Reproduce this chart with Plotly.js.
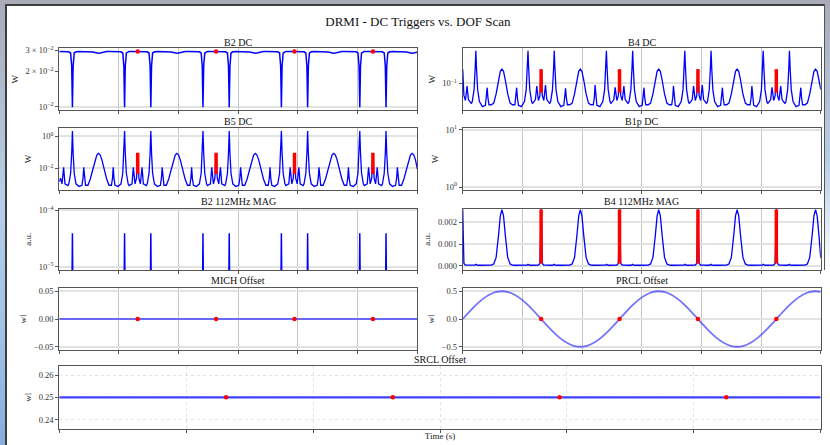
<!DOCTYPE html>
<html><head><meta charset="utf-8">
<script src="https://cdn.plot.ly/plotly-3.0.1.min.js"></script>
<style>
html,body{margin:0;padding:0;width:830px;height:445px;overflow:hidden;background:#fff;}
#frameL{position:absolute;left:0;top:0;width:5px;height:445px;background:linear-gradient(#a9abb9,#b7cfe9 45%,#9fc2e8 75%,#86aedc);z-index:4;}
#frameT{position:absolute;left:0;top:0;width:830px;height:4px;background:#a9abb9;z-index:4;}
#frameR{position:absolute;left:825px;top:0;width:5px;height:270px;background:linear-gradient(#a9abb9,#b7cfe9 60%,#ffffff);z-index:4;}
#lineL{position:absolute;left:5px;top:4px;width:2px;height:441px;background:#3d3d3d;z-index:5;}
#lineT{position:absolute;left:5px;top:4px;width:820px;height:2px;background:#3d3d3d;z-index:5;}
#lineR{position:absolute;left:824px;top:4px;width:1px;height:266px;background:#555;z-index:5;}
#chart{position:absolute;left:7px;top:5px;width:817px;height:440px;}
</style></head>
<body>
<div id="frameL"></div><div id="frameT"></div><div id="frameR"></div>
<div id="lineL"></div><div id="lineT"></div><div id="lineR"></div>
<div id="chart"></div>
<script>
// ---------------- DATA ----------------
// common sample times (s) of the channel traces
const time_s = [
0, 0.2, 0.45, 0.73, 0.95, 1.45, 1.6, 1.9, 2.08, 2.2, 2.32, 2.5, 2.8, 3.3, 3.8, 3.98, 4.1, 4.22, 4.4, 4.8, 5.2, 5.6, 6.0, 6.3, 6.57, 6.84, 7.14, 7.54, 7.94, 8.34, 8.74, 8.92, 9.04, 9.16, 9.34, 9.84, 10.34, 10.64, 10.82, 10.94, 11.06, 11.24, 11.54, 11.69, 12.19, 12.41, 12.69, 12.94,
13.14, 13.34, 13.59, 13.87, 14.09, 14.59, 14.74, 15.04, 15.22, 15.34, 15.46, 15.64, 15.94, 16.44, 16.94, 17.12, 17.24, 17.36, 17.54, 17.94, 18.34, 18.74, 19.14, 19.44, 19.71, 19.98, 20.28, 20.68, 21.08, 21.48, 21.88, 22.06, 22.18, 22.30, 22.48, 22.98, 23.48, 23.78, 23.96, 24.08, 24.20, 24.38, 24.68, 24.83, 25.33, 25.55, 25.83, 26.08,
26.28, 26.48, 26.73, 27.01, 27.23, 27.73, 27.88, 28.18, 28.36, 28.48, 28.60, 28.78, 29.08, 29.58, 30.08, 30.26, 30.38, 30.50, 30.68, 31.08, 31.48, 31.88, 32.28, 32.58, 32.85, 33.12, 33.42, 33.82, 34.22, 34.62, 35.02, 35.20, 35.32, 35.44, 35.62, 36.12, 36.62, 36.92, 37.10, 37.22, 37.34, 37.52, 37.82, 37.97, 38.47, 38.69, 38.97, 39.22,
39.42, 39.62, 39.87, 40.15, 40.37, 40.87, 41.02, 41.32, 41.50, 41.62, 41.74, 41.92, 42.22, 42.72, 43.22, 43.40, 43.52, 43.64, 43.82, 44.22, 44.62, 45.02, 45.42, 45.72, 45.99, 46.26, 46.56, 46.96, 47.36, 47.76, 48.16, 48.34, 48.46, 48.58, 48.76, 49.26, 49.76, 50.06, 50.24, 50.36, 50.48, 50.66, 50.96, 51.11, 51.61, 51.83, 52.11, 52.36,
52.56, 52.76, 53.01, 53.29, 53.51, 54.01, 54.16, 54.46, 54.64, 54.76, 54.88, 55.06, 55.36, 55.86, 56.36, 56.54, 56.66, 56.78, 56.96, 57.36, 57.76, 58.16, 58.56, 58.86, 59.13, 59.40, 59.70, 60.00
];

// B2 DC (W)
const b2_dc = [
0.0294, 0.0294, 0.0294, 0.0294, 0.0294, 0.0294, 0.0292, 0.0285, 0.022, 0.0099, 0.022, 0.0285, 0.0292, 0.0294, 0.0294, 0.0294, 0.0294, 0.0294, 0.0294, 0.0294, 0.0293, 0.0291, 0.0288, 0.0285, 0.0284, 0.0285, 0.0288, 0.0291, 0.0293, 0.0294, 0.0294, 0.0294, 0.0294, 0.0294, 0.0294, 0.0294, 0.0292, 0.0285, 0.022, 0.0099, 0.022, 0.0285, 0.0292, 0.0294, 0.0294, 0.0294, 0.0294, 0.0294,
0.0294, 0.0294, 0.0294, 0.0294, 0.0294, 0.0294, 0.0292, 0.0285, 0.022, 0.0099, 0.022, 0.0285, 0.0292, 0.0294, 0.0294, 0.0294, 0.0294, 0.0294, 0.0294, 0.0294, 0.0293, 0.0291, 0.0288, 0.0285, 0.0284, 0.0285, 0.0288, 0.0291, 0.0293, 0.0294, 0.0294, 0.0294, 0.0294, 0.0294, 0.0294, 0.0294, 0.0292, 0.0285, 0.022, 0.0099, 0.022, 0.0285, 0.0292, 0.0294, 0.0294, 0.0294, 0.0294, 0.0294,
0.0294, 0.0294, 0.0294, 0.0294, 0.0294, 0.0294, 0.0292, 0.0285, 0.022, 0.0099, 0.022, 0.0285, 0.0292, 0.0294, 0.0294, 0.0294, 0.0294, 0.0294, 0.0294, 0.0294, 0.0293, 0.0291, 0.0288, 0.0285, 0.0284, 0.0285, 0.0288, 0.0291, 0.0293, 0.0294, 0.0294, 0.0294, 0.0294, 0.0294, 0.0294, 0.0294, 0.0292, 0.0285, 0.022, 0.0099, 0.022, 0.0285, 0.0292, 0.0294, 0.0294, 0.0294, 0.0294, 0.0294,
0.0294, 0.0294, 0.0294, 0.0294, 0.0294, 0.0294, 0.0292, 0.0285, 0.022, 0.0099, 0.022, 0.0285, 0.0292, 0.0294, 0.0294, 0.0294, 0.0294, 0.0294, 0.0294, 0.0294, 0.0293, 0.0291, 0.0288, 0.0285, 0.0284, 0.0285, 0.0288, 0.0291, 0.0293, 0.0294, 0.0294, 0.0294, 0.0294, 0.0294, 0.0294, 0.0294, 0.0292, 0.0285, 0.022, 0.0099, 0.022, 0.0285, 0.0292, 0.0294, 0.0294, 0.0294, 0.0294, 0.0294,
0.0294, 0.0294, 0.0294, 0.0294, 0.0294, 0.0294, 0.0292, 0.0285, 0.022, 0.0099, 0.022, 0.0285, 0.0292, 0.0294, 0.0294, 0.0294, 0.0294, 0.0294, 0.0294, 0.0294, 0.0293, 0.0291, 0.0288, 0.0285, 0.0284, 0.0285, 0.0288, 0.029
];

// B4 DC (W)
const b4_dc = [
0.22, 0.05, 0.038, 0.085, 0.04, 0.032, 0.036, 0.07, 0.22, 0.62, 0.22, 0.07, 0.036, 0.027, 0.029, 0.045, 0.078, 0.045, 0.03, 0.03, 0.033, 0.055, 0.12, 0.195, 0.22, 0.195, 0.12, 0.055, 0.033, 0.03, 0.03, 0.045, 0.078, 0.045, 0.029, 0.027, 0.036, 0.07, 0.22, 0.62, 0.22, 0.07, 0.036, 0.032, 0.04, 0.085, 0.038, 0.05,
0.22, 0.05, 0.038, 0.09, 0.04, 0.032, 0.036, 0.07, 0.22, 0.62, 0.22, 0.07, 0.036, 0.027, 0.029, 0.045, 0.075, 0.045, 0.03, 0.03, 0.033, 0.055, 0.12, 0.195, 0.22, 0.195, 0.12, 0.055, 0.033, 0.03, 0.03, 0.045, 0.09, 0.045, 0.029, 0.027, 0.036, 0.07, 0.22, 0.62, 0.22, 0.07, 0.036, 0.032, 0.04, 0.08, 0.038, 0.05,
0.22, 0.05, 0.038, 0.085, 0.04, 0.032, 0.036, 0.07, 0.22, 0.62, 0.22, 0.07, 0.036, 0.027, 0.029, 0.045, 0.078, 0.045, 0.03, 0.03, 0.033, 0.055, 0.12, 0.195, 0.22, 0.195, 0.12, 0.055, 0.033, 0.03, 0.03, 0.045, 0.085, 0.045, 0.029, 0.027, 0.036, 0.07, 0.22, 0.62, 0.22, 0.07, 0.036, 0.032, 0.04, 0.085, 0.038, 0.05,
0.22, 0.05, 0.038, 0.09, 0.04, 0.032, 0.036, 0.07, 0.22, 0.62, 0.22, 0.07, 0.036, 0.027, 0.029, 0.045, 0.078, 0.045, 0.03, 0.03, 0.033, 0.055, 0.12, 0.195, 0.22, 0.195, 0.12, 0.055, 0.033, 0.03, 0.03, 0.045, 0.085, 0.045, 0.029, 0.027, 0.036, 0.07, 0.22, 0.62, 0.22, 0.07, 0.036, 0.032, 0.04, 0.08, 0.038, 0.05,
0.22, 0.05, 0.038, 0.085, 0.04, 0.032, 0.036, 0.07, 0.22, 0.62, 0.22, 0.07, 0.036, 0.027, 0.029, 0.045, 0.078, 0.045, 0.03, 0.03, 0.033, 0.055, 0.12, 0.195, 0.22, 0.195, 0.12, 0.07
];

// B5 DC (W)
const b5_dc = [
0.0015, 0.0025, 0.0011, 0.0116, 0.0011, 0.00085, 0.0011, 0.005, 0.09, 2.13, 0.09, 0.005, 0.0011, 0.00076, 0.0009, 0.0025, 0.0116, 0.0025, 0.0009, 0.0009, 0.0022, 0.008, 0.034, 0.07, 0.085, 0.07, 0.034, 0.008, 0.0022, 0.0009, 0.0009, 0.0025, 0.0116, 0.0025, 0.0009, 0.00076, 0.0011, 0.005, 0.09, 2.13, 0.09, 0.005, 0.0011, 0.00085, 0.0011, 0.0116, 0.0011, 0.0025,
0.09, 0.0025, 0.0011, 0.0116, 0.0011, 0.00085, 0.0011, 0.005, 0.09, 2.13, 0.09, 0.005, 0.0011, 0.00076, 0.0009, 0.0025, 0.0116, 0.0025, 0.0009, 0.0009, 0.0022, 0.008, 0.034, 0.07, 0.085, 0.07, 0.034, 0.008, 0.0022, 0.0009, 0.0009, 0.0025, 0.0116, 0.0025, 0.0009, 0.00076, 0.0011, 0.005, 0.09, 2.13, 0.09, 0.005, 0.0011, 0.00085, 0.0011, 0.0116, 0.0011, 0.0025,
0.09, 0.0025, 0.0011, 0.0116, 0.0011, 0.00085, 0.0011, 0.005, 0.09, 2.13, 0.09, 0.005, 0.0011, 0.00076, 0.0009, 0.0025, 0.0116, 0.0025, 0.0009, 0.0009, 0.0022, 0.008, 0.034, 0.07, 0.085, 0.07, 0.034, 0.008, 0.0022, 0.0009, 0.0009, 0.0025, 0.0116, 0.0025, 0.0009, 0.00076, 0.0011, 0.005, 0.09, 2.13, 0.09, 0.005, 0.0011, 0.00085, 0.0011, 0.0116, 0.0011, 0.0025,
0.09, 0.0025, 0.0011, 0.0116, 0.0011, 0.00085, 0.0011, 0.005, 0.09, 2.13, 0.09, 0.005, 0.0011, 0.00076, 0.0009, 0.0025, 0.0116, 0.0025, 0.0009, 0.0009, 0.0022, 0.008, 0.034, 0.07, 0.085, 0.07, 0.034, 0.008, 0.0022, 0.0009, 0.0009, 0.0025, 0.0116, 0.0025, 0.0009, 0.00076, 0.0011, 0.005, 0.09, 2.13, 0.09, 0.005, 0.0011, 0.00085, 0.0011, 0.0116, 0.0011, 0.0025,
0.09, 0.0025, 0.0011, 0.0116, 0.0011, 0.00085, 0.0011, 0.005, 0.09, 2.13, 0.09, 0.005, 0.0011, 0.00076, 0.0009, 0.0025, 0.0116, 0.0025, 0.0009, 0.0009, 0.0022, 0.008, 0.034, 0.07, 0.085, 0.07, 0.034, 0.009
];

// B2 112MHz MAG (a.u.)
const b2_112_mag = [
1e-6, 1e-6, 1e-6, 1e-6, 1e-6, 1e-6, 1e-6, 1e-6, 1e-6, 3.9e-5, 1e-6, 1e-6, 1e-6, 1e-6, 1e-6, 1e-6, 1e-6, 1e-6, 1e-6, 1e-6, 1e-6, 1e-6, 1e-6, 1e-6, 1e-6, 1e-6, 1e-6, 1e-6, 1e-6, 1e-6, 1e-6, 1e-6, 1e-6, 1e-6, 1e-6, 1e-6, 1e-6, 1e-6, 1e-6, 3.9e-5, 1e-6, 1e-6, 1e-6, 1e-6, 1e-6, 1e-6, 1e-6, 1e-6,
1e-6, 1e-6, 1e-6, 1e-6, 1e-6, 1e-6, 1e-6, 1e-6, 1e-6, 3.9e-5, 1e-6, 1e-6, 1e-6, 1e-6, 1e-6, 1e-6, 1e-6, 1e-6, 1e-6, 1e-6, 1e-6, 1e-6, 1e-6, 1e-6, 1e-6, 1e-6, 1e-6, 1e-6, 1e-6, 1e-6, 1e-6, 1e-6, 1e-6, 1e-6, 1e-6, 1e-6, 1e-6, 1e-6, 1e-6, 3.9e-5, 1e-6, 1e-6, 1e-6, 1e-6, 1e-6, 1e-6, 1e-6, 1e-6,
1e-6, 1e-6, 1e-6, 1e-6, 1e-6, 1e-6, 1e-6, 1e-6, 1e-6, 3.9e-5, 1e-6, 1e-6, 1e-6, 1e-6, 1e-6, 1e-6, 1e-6, 1e-6, 1e-6, 1e-6, 1e-6, 1e-6, 1e-6, 1e-6, 1e-6, 1e-6, 1e-6, 1e-6, 1e-6, 1e-6, 1e-6, 1e-6, 1e-6, 1e-6, 1e-6, 1e-6, 1e-6, 1e-6, 1e-6, 3.9e-5, 1e-6, 1e-6, 1e-6, 1e-6, 1e-6, 1e-6, 1e-6, 1e-6,
1e-6, 1e-6, 1e-6, 1e-6, 1e-6, 1e-6, 1e-6, 1e-6, 1e-6, 3.9e-5, 1e-6, 1e-6, 1e-6, 1e-6, 1e-6, 1e-6, 1e-6, 1e-6, 1e-6, 1e-6, 1e-6, 1e-6, 1e-6, 1e-6, 1e-6, 1e-6, 1e-6, 1e-6, 1e-6, 1e-6, 1e-6, 1e-6, 1e-6, 1e-6, 1e-6, 1e-6, 1e-6, 1e-6, 1e-6, 3.9e-5, 1e-6, 1e-6, 1e-6, 1e-6, 1e-6, 1e-6, 1e-6, 1e-6,
1e-6, 1e-6, 1e-6, 1e-6, 1e-6, 1e-6, 1e-6, 1e-6, 1e-6, 3.9e-5, 1e-6, 1e-6, 1e-6, 1e-6, 1e-6, 1e-6, 1e-6, 1e-6, 1e-6, 1e-6, 1e-6, 1e-6, 1e-6, 1e-6, 1e-6, 1e-6, 1e-6, 1e-6
];

// B4 112MHz MAG (a.u.)
const b4_112_mag = [
0.0026, 0.0001, 0.00003, 0.00003, 0.00002, 0.00002, 0.00002, 0.00002, 0.00003, 0.00006, 0.00003, 0.00002, 0.00002, 0.00002, 0.00002, 0.00002, 0.00002, 0.00002, 0.00002, 0.00003, 0.00008, 0.00038, 0.0014, 0.0023, 0.00259, 0.0023, 0.0014, 0.00038, 0.00008, 0.00003, 0.00002, 0.00002, 0.00002, 0.00002, 0.00002, 0.00002, 0.00002, 0.00002, 0.00003, 0.00006, 0.00003, 0.00002, 0.00002, 0.00002, 0.00002, 0.00003, 0.00003, 0.0001,
0.0026, 0.0001, 0.00003, 0.00003, 0.00002, 0.00002, 0.00002, 0.00002, 0.00003, 0.00006, 0.00003, 0.00002, 0.00002, 0.00002, 0.00002, 0.00002, 0.00002, 0.00002, 0.00002, 0.00003, 0.00008, 0.00038, 0.0014, 0.0023, 0.00259, 0.0023, 0.0014, 0.00038, 0.00008, 0.00003, 0.00002, 0.00002, 0.00002, 0.00002, 0.00002, 0.00002, 0.00002, 0.00002, 0.00003, 0.00006, 0.00003, 0.00002, 0.00002, 0.00002, 0.00002, 0.00003, 0.00003, 0.0001,
0.0026, 0.0001, 0.00003, 0.00003, 0.00002, 0.00002, 0.00002, 0.00002, 0.00003, 0.00006, 0.00003, 0.00002, 0.00002, 0.00002, 0.00002, 0.00002, 0.00002, 0.00002, 0.00002, 0.00003, 0.00008, 0.00038, 0.0014, 0.0023, 0.00259, 0.0023, 0.0014, 0.00038, 0.00008, 0.00003, 0.00002, 0.00002, 0.00002, 0.00002, 0.00002, 0.00002, 0.00002, 0.00002, 0.00003, 0.00006, 0.00003, 0.00002, 0.00002, 0.00002, 0.00002, 0.00003, 0.00003, 0.0001,
0.0026, 0.0001, 0.00003, 0.00003, 0.00002, 0.00002, 0.00002, 0.00002, 0.00003, 0.00006, 0.00003, 0.00002, 0.00002, 0.00002, 0.00002, 0.00002, 0.00002, 0.00002, 0.00002, 0.00003, 0.00008, 0.00038, 0.0014, 0.0023, 0.00259, 0.0023, 0.0014, 0.00038, 0.00008, 0.00003, 0.00002, 0.00002, 0.00002, 0.00002, 0.00002, 0.00002, 0.00002, 0.00002, 0.00003, 0.00006, 0.00003, 0.00002, 0.00002, 0.00002, 0.00002, 0.00003, 0.00003, 0.0001,
0.0026, 0.0001, 0.00003, 0.00003, 0.00002, 0.00002, 0.00002, 0.00002, 0.00003, 0.00006, 0.00003, 0.00002, 0.00002, 0.00002, 0.00002, 0.00002, 0.00002, 0.00002, 0.00002, 0.00003, 0.00008, 0.00038, 0.0014, 0.0023, 0.00259, 0.0023, 0.0014, 0.00035
];

// DOF offsets (wl)
const offset_time = [0, 1.095, 2.19, 3.285, 4.38, 5.475, 6.57, 7.665, 8.76, 9.855, 10.95, 12.045, 13.14, 14.235, 15.33, 16.425, 17.52, 18.615, 19.71, 20.805, 21.9, 22.995, 24.09, 25.185, 26.28, 27.375, 28.47, 29.565, 30.66, 31.755, 32.85, 33.945, 35.04, 36.135, 37.23, 38.325, 39.42, 40.515, 41.61, 42.705, 43.8, 44.895, 45.99, 47.085, 48.18, 49.275, 50.37, 51.465, 52.56, 53.655, 54.75, 55.845, 56.94, 58.035, 59.13, 60];
const prcl_offset = [0, 0.129, 0.25, 0.354, 0.433, 0.483, 0.5, 0.483, 0.433, 0.354, 0.25, 0.129, 0, -0.129, -0.25, -0.354, -0.433, -0.483, -0.5, -0.483, -0.433, -0.354, -0.25, -0.129, 0, 0.129, 0.25, 0.354, 0.433, 0.483, 0.5, 0.483, 0.433, 0.354, 0.25, 0.129, 0, -0.129, -0.25, -0.354, -0.433, -0.483, -0.5, -0.483, -0.433, -0.354, -0.25, -0.129, 0, 0.129, 0.25, 0.354, 0.433, 0.483, 0.5, 0.489];
const mich_offset = [0, 0, 0, 0, 0, 0, 0, 0, 0, 0, 0, 0, 0, 0, 0, 0, 0, 0, 0, 0, 0, 0, 0, 0, 0, 0, 0, 0, 0, 0, 0, 0, 0, 0, 0, 0, 0, 0, 0, 0, 0, 0, 0, 0, 0, 0, 0, 0, 0, 0, 0, 0, 0, 0, 0, 0];
const srcl_offset = [0.25, 0.25, 0.25, 0.25, 0.25, 0.25, 0.25, 0.25, 0.25, 0.25, 0.25, 0.25, 0.25, 0.25, 0.25, 0.25, 0.25, 0.25, 0.25, 0.25, 0.25, 0.25, 0.25, 0.25, 0.25, 0.25, 0.25, 0.25, 0.25, 0.25, 0.25, 0.25, 0.25, 0.25, 0.25, 0.25, 0.25, 0.25, 0.25, 0.25, 0.25, 0.25, 0.25, 0.25, 0.25, 0.25, 0.25, 0.25, 0.25, 0.25, 0.25, 0.25, 0.25, 0.25, 0.25, 0.25];

// triggers
const trigger_times = [13.14, 26.28, 39.42, 52.56];
const trig_b2_dc = [0.0294, 0.0294, 0.0294, 0.0294];
const trig_b4_dc_low = [0.059, 0.059, 0.059, 0.059];
const trig_b4_dc_high = [0.22, 0.22, 0.22, 0.22];
const trig_b5_dc_low = [0.0045, 0.0045, 0.0045, 0.0045];
const trig_b5_dc_high = [0.093, 0.093, 0.093, 0.093];
const trig_b4_112_low = [0.0001, 0.0001, 0.0001, 0.0001];
const trig_b4_112_high = [0.00259, 0.00259, 0.00259, 0.00259];
const trig_mich = [0, 0, 0, 0];
const trig_prcl = [0, 0, 0, 0];
const trig_srcl = [0.25, 0.25, 0.25, 0.25];

// tick labels
const x_grid_ticks = [0, 10, 20, 30, 40, 50, 60];
const sup = (e) => '10<sup>' + e + '</sup>';
const b2dc_tickvals = [0.01, 0.02, 0.03];
const b2dc_ticktext = [sup('−2'), '2 × ' + sup('−2'), '3 × ' + sup('−2')];
const b4dc_tickvals = [0.1];
const b4dc_ticktext = [sup('−1')];
const b5dc_tickvals = [0.01, 1];
const b5dc_ticktext = [sup('−2'), sup('0')];
const b1p_tickvals = [1, 10];
const b1p_ticktext = [sup('0'), sup('1')];
const b2m_tickvals = [1e-5, 1e-4];
const b2m_ticktext = [sup('−5'), sup('−4')];
const b4m_tickvals = [0, 0.001, 0.002];
const b4m_ticktext = ['0.000', '0.001', '0.002'];
const mich_tickvals = [-0.05, 0, 0.05];
const mich_ticktext = ['−0.05', '0.00', '0.05'];
const prcl_tickvals = [-0.5, 0, 0.5];
const prcl_ticktext = ['−0.5', '0.0', '0.5'];
const srcl_tickvals = [0.24, 0.25, 0.26];
const srcl_ticktext = ['0.24', '0.25', '0.26'];

// ---------------- BUILD ----------------
const FONT = 'Liberation Serif';
const BLUE = '#0000ff';
function bars(times, lo, hi) {
  const x = [], y = [];
  times.forEach((t, i) => { x.push(t, t, null); y.push(lo[i], hi[i], null); });
  return {x, y};
}
const traces = [];
function line(x, y, ax, color, width, shape) {
  traces.push({x, y, xaxis: 'x' + ax, yaxis: 'y' + ax, type: 'scatter', mode: 'lines',
    line: {color, width, shape: shape || 'linear'}, hoverinfo: 'skip'});
}
function dots(x, y, ax) {
  traces.push({x, y, xaxis: 'x' + ax, yaxis: 'y' + ax, type: 'scatter', mode: 'markers',
    marker: {color: '#ff0000', size: 4.5, line: {width: 0}}, hoverinfo: 'skip'});
}
function redbars(times, lo, hi, ax) {
  const b = bars(times, lo, hi);
  traces.push({x: b.x, y: b.y, xaxis: 'x' + ax, yaxis: 'y' + ax, type: 'scatter', mode: 'lines',
    line: {color: '#ff0000', width: 3.5}, hoverinfo: 'skip', connectgaps: false});
}

line(time_s, b2_dc, '', BLUE, 1.5);
dots(trigger_times, trig_b2_dc, '');
line(time_s, b4_dc, '2', BLUE, 1.3);
redbars(trigger_times, trig_b4_dc_low, trig_b4_dc_high, '2');
line(time_s, b5_dc, '3', BLUE, 1.3);
redbars(trigger_times, trig_b5_dc_low, trig_b5_dc_high, '3');
line(time_s, b2_112_mag, '5', BLUE, 1.5);
line(time_s, b4_112_mag, '6', BLUE, 1.3);
redbars(trigger_times, trig_b4_112_low, trig_b4_112_high, '6');
line(offset_time, mich_offset, '7', 'rgba(40,40,255,0.65)', 2.2);
dots(trigger_times, trig_mich, '7');
line(offset_time, prcl_offset, '8', 'rgba(40,40,255,0.65)', 1.8, 'spline');
dots(trigger_times, trig_prcl, '8');
line(offset_time, srcl_offset, '9', 'rgba(20,20,255,0.8)', 2.2);
dots(trigger_times, trig_srcl, '9');
// empty B1p DC panel
traces.push({x: [], y: [], xaxis: 'x4', yaxis: 'y4', type: 'scatter', mode: 'lines'});

const L = [0.0640, 0.5022], R = [0.5578, 0.9960], FULL = [0.0640, 0.9960];
const ROW = [[0.7614, 0.9016], [0.5795, 0.7205], [0.3977, 0.5375], [0.2170, 0.3557], [0.0364, 0.1802]];
const tickfont = {family: FONT, size: 8.5, color: '#333'};
function xa(domain, anchor, dotted, title) {
  const o = {domain, anchor, range: [0, 60], tickmode: 'array', tickvals: x_grid_ticks, showticklabels: false,
    ticks: 'outside', ticklen: 3, tickcolor: '#555', showline: true, mirror: true, linecolor: '#555', linewidth: 1,
    showgrid: true, gridcolor: dotted ? '#e2e2e2' : '#c6c6c6', gridwidth: 1, griddash: dotted ? 'dot' : 'solid',
    zeroline: false, fixedrange: true};
  if (title) o.title = {text: title, font: {family: FONT, size: 9, color: '#222'}, standoff: 0};
  return o;
}
function ya(domain, anchor, type, range, tv, tt, title, extra) {
  const o = {domain, anchor, type, range, tickmode: 'array', tickvals: tv, ticktext: tt, tickfont,
    ticks: 'outside', ticklen: 3, tickcolor: '#555', showline: true, mirror: true, linecolor: '#555', linewidth: 1,
    showgrid: true, gridcolor: '#e2e2e2', gridwidth: 2, zeroline: false, fixedrange: true,
    title: {text: title, font: {family: FONT, size: 9, color: '#222'}, standoff: 5}};
  return Object.assign(o, extra || {});
}

const layout = {
  width: 817, height: 440, margin: {l: 0, r: 0, t: 0, b: 0},
  paper_bgcolor: '#ffffff', plot_bgcolor: '#ffffff', showlegend: false,
  font: {family: FONT, size: 10, color: '#222'},
  title: {text: 'DRMI - DC Triggers vs. DOF Scan', x: 0.503, xanchor: 'center', xref: 'paper',
    y: 0.9636, yanchor: 'middle', yref: 'container', font: {family: FONT, size: 13, color: '#111'}},
  xaxis: xa(L, 'y'), yaxis: ya(ROW[0], 'x', 'log', [-2.028, -1.505], b2dc_tickvals, b2dc_ticktext, 'W',
    {showgrid: false, minor: {tickmode: 'array', tickvals: [0.01], showgrid: true, gridcolor: '#e2e2e2', gridwidth: 2, ticks: ''}}),
  xaxis2: xa(R, 'y2'), yaxis2: ya(ROW[0], 'x2', 'log', [-1.65, -0.15], b4dc_tickvals, b4dc_ticktext, 'W'),
  xaxis3: xa(L, 'y3'), yaxis3: ya(ROW[1], 'x3', 'log', [-3.342, 0.513], b5dc_tickvals, b5dc_ticktext, 'W'),
  xaxis4: xa(R, 'y4'), yaxis4: ya(ROW[1], 'x4', 'log', [-0.053, 1.035], b1p_tickvals, b1p_ticktext, 'W'),
  xaxis5: xa(L, 'y5'), yaxis5: ya(ROW[2], 'x5', 'log', [-5.058, -3.97], b2m_tickvals, b2m_ticktext, 'a.u.'),
  xaxis6: xa(R, 'y6'), yaxis6: ya(ROW[2], 'x6', 'linear', [-0.0002, 0.00264], b4m_tickvals, b4m_ticktext, 'a.u.'),
  xaxis7: xa(L, 'y7'), yaxis7: ya(ROW[3], 'x7', 'linear', [-0.055, 0.055], mich_tickvals, mich_ticktext, 'wl'),
  xaxis8: xa(R, 'y8'), yaxis8: ya(ROW[3], 'x8', 'linear', [-0.55, 0.55], prcl_tickvals, prcl_ticktext, 'wl'),
  xaxis9: xa(FULL, 'y9', true, 'Time (s)'), yaxis9: ya(ROW[4], 'x9', 'linear', [0.2358, 0.2642], srcl_tickvals, srcl_ticktext, 'wl',
    {gridcolor: '#e2e2e2', gridwidth: 1, griddash: 'dot'}),
  annotations: []
};

function ann(text, x, y, size) {
  layout.annotations.push({text, x, y, xref: 'paper', yref: 'paper', xanchor: 'center', yanchor: 'middle',
    showarrow: false, font: {family: FONT, size, color: '#111'}});
}
const cL = (L[0] + L[1]) / 2, cR = (R[0] + R[1]) / 2;
ann('B2 DC', cL, 0.9159, 10); ann('B4 DC', cR, 0.9159, 10);
ann('B5 DC', cL, 0.7348, 10); ann('B1p DC', cR, 0.7348, 10);
ann('B2 112MHz MAG', cL, 0.5545, 10); ann('B4 112MHz MAG', cR, 0.5545, 10);
ann('MICH Offset', cL, 0.375, 10); ann('PRCL Offset', cR, 0.375, 10);
ann('SRCL Offset', 0.530, 0.1932, 10);

Plotly.newPlot('chart', traces, layout, {staticPlot: true, displayModeBar: false});
</script>
</body></html>
